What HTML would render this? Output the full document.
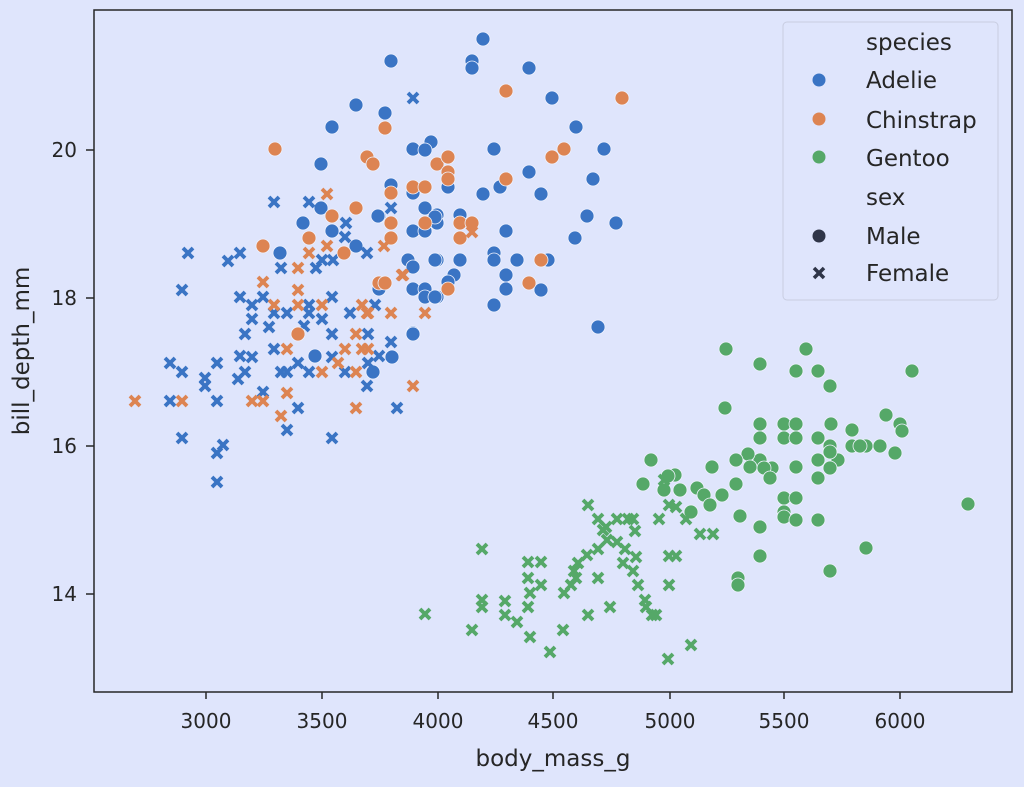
<!DOCTYPE html>
<html><head><meta charset="utf-8"><style>
html,body{margin:0;padding:0;background:#dfe5fc;}
svg{display:block;font-family:"DejaVu Sans","Liberation Sans",sans-serif;}
</style></head><body>
<svg id="s" width="1024" height="787" viewBox="0 0 1024 787" xmlns="http://www.w3.org/2000/svg">
<rect width="1024" height="787" fill="#dfe5fc"/>
<g id="pts"></g>
<rect x="94" y="10" width="918" height="682" fill="none" stroke="#262626" stroke-width="1.5"/>
<g stroke="#262626" stroke-width="1.5">
<line x1="206" y1="692" x2="206" y2="699"/><line x1="322" y1="692" x2="322" y2="699"/><line x1="438" y1="692" x2="438" y2="699"/><line x1="553" y1="692" x2="553" y2="699"/><line x1="670" y1="692" x2="670" y2="699"/><line x1="784" y1="692" x2="784" y2="699"/><line x1="900" y1="692" x2="900" y2="699"/>
<line x1="86" y1="150" x2="94" y2="150"/><line x1="86" y1="298" x2="94" y2="298"/><line x1="86" y1="446" x2="94" y2="446"/><line x1="86" y1="594" x2="94" y2="594"/>
</g>
<g font-size="20" fill="#262626" text-anchor="middle">
<text x="206" y="728">3000</text><text x="322" y="728">3500</text><text x="438" y="728">4000</text><text x="553" y="728">4500</text><text x="670" y="728">5000</text><text x="784" y="728">5500</text><text x="900" y="728">6000</text>
<text x="553" y="766" font-size="23">body_mass_g</text>
</g>
<g font-size="20" fill="#262626" text-anchor="end">
<text x="77" y="157">20</text><text x="77" y="305">18</text><text x="77" y="453">16</text><text x="77" y="601">14</text>
</g>
<text transform="translate(29,351) rotate(-90)" font-size="23" fill="#262626" text-anchor="middle">bill_depth_mm</text>
<rect x="783" y="22" width="215" height="278" rx="4" fill="#dfe5fc" stroke="#c8cde0" stroke-width="1"/>
<g font-size="23" fill="#262626">
<text x="866" y="50">species</text><text x="866" y="88">Adelie</text><text x="866" y="128">Chinstrap</text><text x="866" y="166">Gentoo</text><text x="866" y="205">sex</text><text x="866" y="244">Male</text><text x="866" y="281">Female</text>
</g>
<circle cx="819" cy="80" r="6.5" fill="#3a74c4"/><circle cx="819" cy="119" r="6.5" fill="#dd8452"/><circle cx="819" cy="157" r="6.5" fill="#55a868"/><circle cx="819" cy="236" r="6.5" fill="#2f3548"/>
<g stroke="#2f3548" stroke-width="3.5"><line x1="814" y1="268" x2="824" y2="278"/><line x1="824" y1="268" x2="814" y2="278"/></g>
</svg>
<script>
var B="#3a74c4",O="#dd8452",G="#55a868";
var AM=[[483,39],[391,61],[472,61],[472,68],[529,68],[552,98],[576,127],[494,149],[604,149],[529,172],[593,179],[483,194],[500,187],[541,194],[587,216],[616,223],[506,231],[575,238],[494,253],[494,260],[517,260],[548,260],[506,275],[506,289],[541,290],[494,305],[598,327],[385,113],[413,149],[431,142],[425,150],[391,185],[413,193],[425,208],[437,215],[437,223],[460,215],[379,216],[413,231],[425,231],[408,260],[413,267],[437,260],[460,260],[454,275],[448,282],[413,289],[425,289],[425,297],[437,297],[379,289],[413,333],[448,187],[356,105],[332,127],[321,164],[321,208],[303,223],[332,231],[280,253],[356,246],[378,216],[435,217],[435,260],[435,297],[413,334],[315,356],[392,357],[373,372]];
var AF=[[274,202],[309,202],[391,208],[346,223],[345,237],[188,253],[228,261],[240,253],[281,268],[316,268],[322,260],[333,260],[367,253],[182,290],[240,297],[252,305],[263,297],[287,313],[274,313],[252,319],[269,327],[245,334],[309,305],[309,313],[322,319],[332,297],[304,326],[350,313],[375,305],[332,334],[368,334],[391,342],[274,349],[240,356],[252,357],[332,357],[170,363],[182,372],[217,363],[205,378],[205,386],[245,372],[238,379],[281,372],[287,372],[298,363],[309,372],[345,372],[368,363],[379,356],[367,386],[170,401],[217,401],[263,392],[298,408],[397,408],[287,430],[182,438],[223,445],[217,453],[332,438],[217,482],[413,98]];
var CM=[[506,91],[622,98],[385,128],[367,157],[373,164],[437,164],[448,157],[448,172],[448,179],[413,187],[425,187],[391,193],[506,179],[552,157],[564,149],[391,223],[425,223],[460,223],[472,223],[460,238],[391,238],[541,260],[529,283],[448,289],[379,283],[385,283],[275,149],[332,216],[356,208],[309,238],[263,246],[344,253],[298,334]];
var CF=[[327,194],[309,253],[327,246],[298,268],[263,282],[298,290],[274,305],[298,305],[322,305],[362,305],[368,313],[391,313],[425,313],[403,275],[384,246],[287,349],[345,349],[362,349],[368,349],[356,334],[338,363],[322,372],[356,372],[413,386],[135,401],[182,401],[252,401],[263,401],[287,393],[281,416],[356,408],[402,275],[367,313],[472,232]];
var GM=[[726,349],[760,364],[806,349],[796,371],[818,371],[830,386],[912,371],[725,408],[760,424],[760,438],[784,424],[784,438],[796,424],[796,438],[818,438],[831,424],[838,460],[830,446],[852,430],[852,446],[866,446],[886,415],[900,424],[902,431],[895,453],[818,460],[772,468],[760,460],[748,454],[750,467],[736,460],[712,467],[697,488],[675,475],[651,460],[680,490],[704,495],[722,495],[736,484],[764,468],[770,478],[784,498],[796,498],[796,467],[740,516],[760,527],[784,512],[784,517],[796,520],[818,520],[830,468],[818,478],[830,452],[866,548],[968,504],[738,578],[738,585],[760,556],[830,571],[691,512],[668,476],[664,490],[710,505],[643,484],[860,446],[880,446]];
var GF=[[588,505],[617,519],[598,519],[606,527],[603,530],[628,519],[633,519],[635,531],[607,540],[617,542],[625,549],[598,549],[587,555],[578,563],[574,571],[576,578],[571,585],[564,593],[528,562],[541,562],[541,585],[528,578],[530,593],[528,607],[517,622],[530,637],[505,601],[505,615],[482,549],[482,600],[482,607],[472,630],[425,614],[550,652],[563,630],[588,615],[610,607],[598,578],[633,571],[638,585],[645,600],[656,615],[652,615],[669,585],[669,556],[676,556],[686,519],[700,534],[713,534],[669,505],[664,480],[659,519],[676,507],[668,659],[691,645],[646,607],[623,563],[636,557]];
var g=document.getElementById("pts"),h="";
function c(a,col){a.forEach(function(p){h+='<circle cx="'+p[0]+'" cy="'+p[1]+'" r="7" fill="'+col+'" stroke="#eef1fd" stroke-width="0.8"/>';});}
function x(a,col){a.forEach(function(p){var X=p[0],Y=p[1];h+='<g stroke="'+col+'" stroke-width="3.8"><line x1="'+(X-5)+'" y1="'+(Y-5)+'" x2="'+(X+5)+'" y2="'+(Y+5)+'"/><line x1="'+(X+5)+'" y1="'+(Y-5)+'" x2="'+(X-5)+'" y2="'+(Y+5)+'"/></g>';});}
c(AM,B);x(AF,B);c(CM,O);x(CF,O);c(GM,G);x(GF,G);
g.innerHTML=h;
</script>
</body></html>
